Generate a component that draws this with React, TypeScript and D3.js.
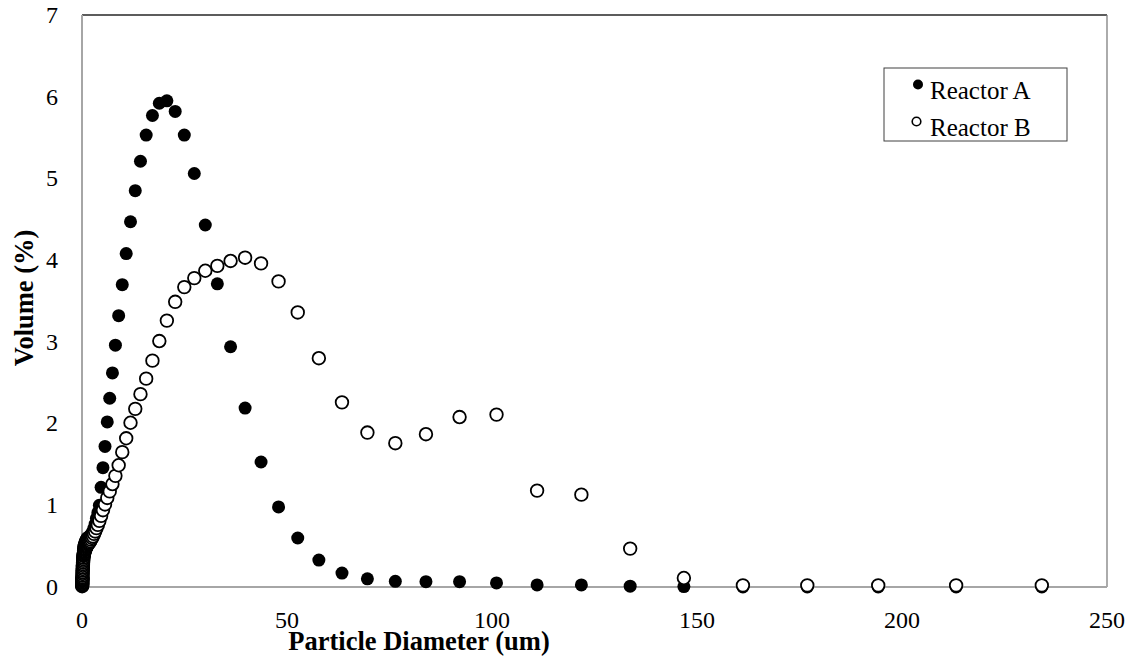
import React, { useEffect, useRef } from "react";
import * as d3 from "d3";

// Particle size bins (um)
const diameters: number[] = [
  0.040, 0.044, 0.048, 0.053, 0.058, 0.064, 0.070, 0.077, 0.084, 0.093,
  0.102, 0.112, 0.122, 0.134, 0.148, 0.162, 0.178, 0.195, 0.214, 0.235,
  0.258, 0.284, 0.311, 0.342, 0.375, 0.412, 0.452, 0.496, 0.545, 0.598,
  0.657, 0.721, 0.791, 0.869, 0.954, 1.047, 1.149, 1.261, 1.385, 1.520,
  1.669, 1.832, 2.011, 2.208, 2.423, 2.660, 2.920, 3.206, 3.519, 3.863,
  4.241, 4.656, 5.111, 5.611, 6.159, 6.761, 7.422, 8.148, 8.944, 9.819,
  10.78, 11.83, 12.99, 14.26, 15.65, 17.18, 18.86, 20.70, 22.73, 24.95,
  27.39, 30.07, 33.01, 36.24, 39.78, 43.67, 47.94, 52.62, 57.77, 63.41,
  69.61, 76.42, 83.89, 92.09, 101.1, 111.0, 121.8, 133.7, 146.8, 161.2,
  176.9, 194.2, 213.2, 234.1,
];

const reactorA: number[] = [
  0.01, 0.02, 0.03, 0.05, 0.06, 0.08, 0.10, 0.12, 0.14, 0.16,
  0.18, 0.20, 0.22, 0.24, 0.26, 0.28, 0.30, 0.32, 0.34, 0.36,
  0.38, 0.40, 0.42, 0.44, 0.46, 0.47, 0.49, 0.50, 0.51, 0.52,
  0.53, 0.54, 0.55, 0.56, 0.57, 0.58, 0.59, 0.60, 0.60, 0.61,
  0.61, 0.62, 0.63, 0.64, 0.66, 0.68, 0.72, 0.77, 0.84, 0.91,
  1.00, 1.22, 1.46, 1.72, 2.02, 2.31, 2.62, 2.96, 3.32, 3.70,
  4.08, 4.47, 4.85, 5.21, 5.53, 5.77, 5.92, 5.95, 5.82, 5.53,
  5.06, 4.43, 3.71, 2.94, 2.19, 1.53, 0.98, 0.60, 0.33, 0.17,
  0.10, 0.07, 0.065, 0.065, 0.05, 0.025, 0.025, 0.01, 0.005, 0.0,
  0.0, 0.0, 0.0, 0.0,
];

const reactorB: number[] = [
  0.01, 0.02, 0.03, 0.04, 0.05, 0.06, 0.07, 0.08, 0.09, 0.10,
  0.11, 0.12, 0.14, 0.16, 0.18, 0.20, 0.22, 0.24, 0.26, 0.28,
  0.30, 0.32, 0.34, 0.36, 0.38, 0.39, 0.40, 0.41, 0.42, 0.43,
  0.44, 0.45, 0.46, 0.47, 0.48, 0.49, 0.50, 0.51, 0.52, 0.53,
  0.54, 0.55, 0.56, 0.58, 0.60, 0.62, 0.65, 0.68, 0.72, 0.76,
  0.81, 0.87, 0.94, 1.01, 1.09, 1.17, 1.26, 1.36, 1.49, 1.65,
  1.82, 2.01, 2.18, 2.36, 2.55, 2.77, 3.01, 3.26, 3.49, 3.67,
  3.78, 3.87, 3.93, 3.99, 4.03, 3.96, 3.74, 3.36, 2.80, 2.26,
  1.89, 1.76, 1.87, 2.08, 2.11, 1.18, 1.13, 0.47, 0.11, 0.02,
  0.02, 0.02, 0.02, 0.02,
];

const xTicks: number[] = [0, 50, 100, 150, 200, 250];
const yTicks: number[] = [0, 1, 2, 3, 4, 5, 6, 7];
const seriesNames: string[] = ["Reactor A", "Reactor B"];

const W = 1138;
const H = 664;
const FONT = "'Liberation Serif', 'Times New Roman', serif";

export default function App() {
  const ref = useRef<SVGSVGElement | null>(null);

  useEffect(() => {
    const svg = d3.select(ref.current);
    svg.selectAll("*").remove();

    const left = 82, right = 1107, top = 15, bottom = 587;
    const x = d3.scaleLinear().domain([0, 250]).range([left, right]);
    const y = d3.scaleLinear().domain([0, 7]).range([bottom, top]);

    svg.append("rect").attr("width", W).attr("height", H).attr("fill", "#fff");

    // frame
    svg.append("line").attr("x1", left).attr("x2", right).attr("y1", top).attr("y2", top)
      .attr("stroke", "#262626").attr("stroke-width", 1.5);
    svg.append("line").attr("x1", right).attr("x2", right).attr("y1", top).attr("y2", bottom)
      .attr("stroke", "#7f7f7f").attr("stroke-width", 1.3);
    svg.append("line").attr("x1", left).attr("x2", left).attr("y1", top).attr("y2", bottom)
      .attr("stroke", "#a6a6a6").attr("stroke-width", 2);
    svg.append("line").attr("x1", left).attr("x2", right).attr("y1", bottom).attr("y2", bottom)
      .attr("stroke", "#a6a6a6").attr("stroke-width", 2);

    // tick labels
    svg.append("g").selectAll("text").data(xTicks).join("text")
      .attr("x", (d) => x(d)).attr("y", 628)
      .attr("text-anchor", "middle")
      .attr("font-family", FONT).attr("font-size", 24).attr("fill", "#000")
      .text((d) => String(d));
    svg.append("g").selectAll("text").data(yTicks).join("text")
      .attr("x", 58).attr("y", (d) => y(d))
      .attr("dy", "0.33em")
      .attr("text-anchor", "end")
      .attr("font-family", FONT).attr("font-size", 24).attr("fill", "#000")
      .text((d) => String(d));

    // axis titles
    svg.append("text").attr("x", 419).attr("y", 650)
      .attr("text-anchor", "middle").attr("font-family", FONT).attr("font-weight", "bold")
      .attr("font-size", 26.5).text("Particle Diameter (um)");
    svg.append("text").attr("transform", `translate(33,298) rotate(-90)`)
      .attr("text-anchor", "middle").attr("font-family", FONT).attr("font-weight", "bold")
      .attr("font-size", 26.5).text("Volume (%)");

    const pts = (vals: number[]) => diameters.map((d, i) => ({ d, v: vals[i] }));

    svg.append("g").selectAll("circle").data(pts(reactorA)).join("circle")
      .attr("cx", (p) => x(p.d)).attr("cy", (p) => y(p.v)).attr("r", 6.5)
      .attr("fill", "#000");
    svg.append("g").selectAll("circle").data(pts(reactorB)).join("circle")
      .attr("cx", (p) => x(p.d)).attr("cy", (p) => y(p.v)).attr("r", 6.3)
      .attr("fill", "#fff").attr("stroke", "#000").attr("stroke-width", 1.8);

    // legend
    const lg = svg.append("g");
    lg.append("rect").attr("x", 884).attr("y", 68).attr("width", 183).attr("height", 73)
      .attr("fill", "#fff").attr("stroke", "#404040").attr("stroke-width", 1);
    lg.append("circle").attr("cx", 918).attr("cy", 84.5).attr("r", 5).attr("fill", "#000");
    lg.append("circle").attr("cx", 916.5).attr("cy", 121.5).attr("r", 4.3)
      .attr("fill", "#fff").attr("stroke", "#000").attr("stroke-width", 1.6);
    lg.selectAll("text.lt").data(seriesNames).join("text").attr("class", "lt")
      .attr("x", 930).attr("y", (_d, i) => 99 + i * 37)
      .attr("font-family", FONT).attr("font-size", 25).attr("fill", "#000")
      .text((d) => d);
  }, []);

  return (
    <svg ref={ref} width={W} height={H}
      style={{ position: "absolute", left: 0, top: 0, display: "block" }} />
  );
}
